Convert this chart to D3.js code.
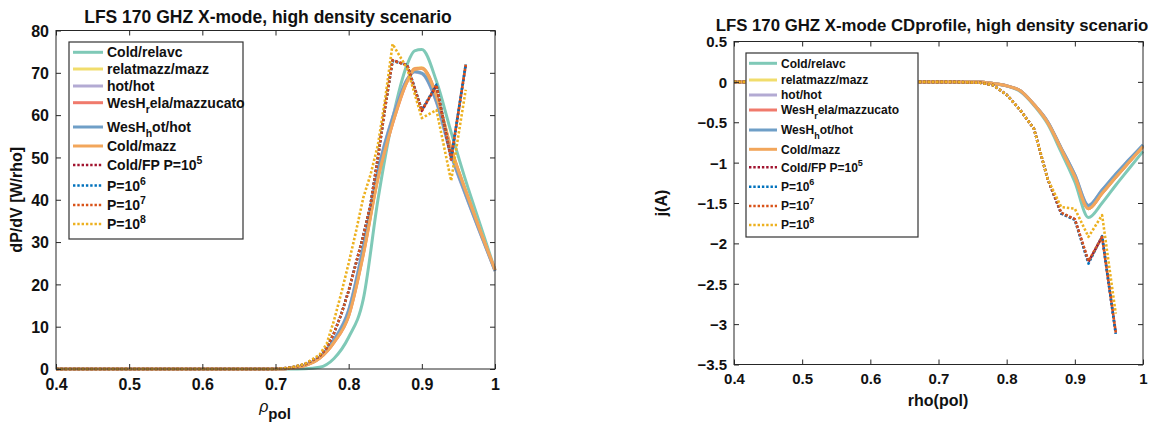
<!DOCTYPE html>
<html><head><meta charset="utf-8">
<script src="https://cdn.jsdelivr.net/npm/d3@7"></script>
<style>
html,body{margin:0;padding:0;background:#fff;}
svg text{font-family:"Liberation Sans",Arial,Helvetica,sans-serif;font-weight:bold;fill:#111;}
</style></head>
<body><svg id="c" width="1149" height="425"></svg>
<script>
// ---------- DATA ----------
const seriesLabels = ["Cold/relavc","relatmazz/mazz","hot/hot","WesH_{r}ela/mazzucato","WesH_{h}ot/hot","Cold/mazz","Cold/FP P=10^{5}","P=10^{6}","P=10^{7}","P=10^{8}"];
const seriesColors = ["#7fc9b7","#f1dd6c","#b3aad3","#f07a6c","#6f9fc7","#f2a65b","#a2142f","#0072bd","#d95319","#edb120"];
const seriesDotted = [false,false,false,false,false,false,true,true,true,true];

// rho grid for solid (ray-tracing) curves
const rhoSolid = [0.40,0.50,0.60,0.70,0.72,0.74,0.76,0.78,0.80,0.82,0.84,0.86,0.88,0.89,0.90,0.92,0.94,0.96,0.98,1.00];
// rho grid for Fokker-Planck (dotted) curves, power
const rhoDotP = [0.40,0.50,0.60,0.70,0.72,0.74,0.76,0.77,0.78,0.79,0.80,0.81,0.82,0.83,0.84,0.85,0.86,0.88,0.90,0.92,0.94,0.96];
// rho grid for dotted curves, current
const rhoDotJ = [0.40,0.50,0.60,0.70,0.72,0.74,0.76,0.78,0.80,0.82,0.84,0.86,0.88,0.90,0.92,0.94,0.96];

// dP/dV [W/rho]
const pColdRelavc = [0,0,0,0,0,0.05,0.4,2.5,7.5,16.5,40,59,72,75.2,75.5,68,56,44.5,34,23.4];
const pRelatmazz  = [0,0,0,0,0.2,0.8,2.5,6.4,12.8,27.5,45.5,58.3,68.3,71,71.2,64.7,52.2,42.2,32.6,23.4];
const pHotHot     = [0,0,0,0,0.2,0.9,2.8,7,14,29,47,59.5,68.5,70.2,69.8,63,50.5,41,32,23.2];
const pWesRela    = [0,0,0,0,0.2,0.8,2.5,6.3,12.6,27.2,45.2,58,68,70.9,71.1,64.6,52,42,32.5,23.4];
const pWesHot     = [0,0,0,0,0.2,0.9,2.7,6.9,13.8,28.7,46.8,59.3,68.4,70.3,69.9,63.2,50.8,41.2,32.1,23.2];
const pColdMazz   = [0,0,0,0,0.2,0.8,2.5,6.3,12.5,27,45,58,68,70.8,71,64.5,52,42,32.5,23.4];
const pFP5 = [0,0,0,0,0.3,1.1,3,5,8.5,13,18.5,25,31.5,39,50,62,73,71.8,61,67,49.5,71.8];
const pFP6 = [0,0,0,0,0.3,1.1,3,5,8.5,13,18.5,25,31.5,39,50,62,72.8,71.9,61.2,67.2,49.8,72];
const pFP7 = [0,0,0,0,0.3,1.1,3,5,8.5,13,18.5,25,31.5,39,50,62,72.9,71.8,61.1,67.1,49.6,71.9];
const pFP8 = [0,0,0,0,0.3,1.2,3.3,6,11.5,18,25,32.5,40.5,46,53,64,76.8,71,59.3,61.2,44.5,66];

// j(A)
const jColdRelavc = [0,0,0,0,0,0,0,-0.02,-0.05,-0.12,-0.29,-0.52,-0.87,-1.05,-1.24,-1.68,-1.5,-1.28,-1.07,-0.86];
const jRelatmazz  = [0,0,0,0,0,0,0,-0.02,-0.05,-0.11,-0.28,-0.5,-0.83,-1.0,-1.17,-1.57,-1.38,-1.18,-0.99,-0.8];
const jHotHot     = [0,0,0,0,0,0,0,-0.02,-0.05,-0.11,-0.28,-0.49,-0.82,-0.98,-1.15,-1.53,-1.34,-1.15,-0.96,-0.79];
const jWesRela    = [0,0,0,0,0,0,0,-0.02,-0.05,-0.11,-0.28,-0.5,-0.83,-1.0,-1.17,-1.57,-1.38,-1.18,-0.99,-0.8];
const jWesHot     = [0,0,0,0,0,0,0,-0.02,-0.05,-0.11,-0.28,-0.49,-0.82,-0.98,-1.15,-1.53,-1.34,-1.14,-0.96,-0.78];
const jColdMazz   = [0,0,0,0,0,0,0,-0.02,-0.05,-0.11,-0.28,-0.5,-0.83,-1.0,-1.17,-1.57,-1.38,-1.18,-0.99,-0.8];
const jFP5 = [0,0,0,0,0,-0.005,-0.01,-0.04,-0.16,-0.35,-0.58,-1.2,-1.63,-1.7,-2.23,-1.92,-3.11];
const jFP6 = [0,0,0,0,0,-0.005,-0.01,-0.04,-0.16,-0.35,-0.58,-1.2,-1.63,-1.71,-2.25,-1.91,-3.12];
const jFP7 = [0,0,0,0,0,-0.005,-0.01,-0.04,-0.16,-0.35,-0.58,-1.2,-1.62,-1.7,-2.22,-1.92,-3.1];
const jFP8 = [0,0,0,0,0,-0.005,-0.01,-0.04,-0.16,-0.35,-0.58,-1.2,-1.55,-1.57,-1.92,-1.65,-2.87];

const xTicks = [0.4,0.5,0.6,0.7,0.8,0.9,1];
const pTicks = [0,10,20,30,40,50,60,70,80];
const jTicks = [0.5,0,-0.5,-1,-1.5,-2,-2.5,-3,-3.5];

// ---------- DRAW ----------
const svg = d3.select("#c");

function richText(sel, label, baseSize){
  const parts = label.split(/(_\{[^}]*\}|\^\{[^}]*\})/).filter(s=>s.length);
  let shift = 0;
  parts.forEach(p=>{
    let txt=p, dy=0, size=baseSize;
    if(p.startsWith("_{")){txt=p.slice(2,-1); dy=5; size=baseSize*0.75;}
    else if(p.startsWith("^{")){txt=p.slice(2,-1); dy=-6; size=baseSize*0.75;}
    sel.append("tspan").attr("dy", dy-shift).attr("font-size", size).text(txt);
    shift = dy;
  });
}

function drawChart(cfg){
  const x = d3.scaleLinear().domain([0.4,1]).range([cfg.left,cfg.right]);
  const y = d3.scaleLinear().domain(cfg.ydom).range([cfg.bottom,cfg.top]);
  const g = svg.append("g");
  const axisCol = "#262626";

  const solidLine = d3.line().x(d=>x(d[0])).y(d=>y(d[1])).curve(d3.curveMonotoneX);
  const dotLine = d3.line().x(d=>x(d[0])).y(d=>y(d[1]));
  cfg.series.forEach((vals,i)=>{
    const xs = seriesDotted[i] ? cfg.rhoDot : rhoSolid;
    const pts = xs.map((r,k)=>[r, vals[k]]);
    g.append("path").attr("d", (seriesDotted[i]?dotLine:solidLine)(pts))
      .attr("fill","none").attr("stroke",seriesColors[i])
      .attr("stroke-width", seriesDotted[i]?2.6:3)
      .attr("stroke-dasharray", seriesDotted[i]?"2.4 1.9":null)
      .attr("stroke-linejoin","round");
  });

  g.append("rect").attr("x",cfg.left).attr("y",cfg.top)
    .attr("width",cfg.right-cfg.left).attr("height",cfg.bottom-cfg.top)
    .attr("fill","none").attr("stroke",axisCol).attr("stroke-width",1);

  const tl = 5;
  const xb = g.append("g").attr("transform",`translate(0,${cfg.bottom})`)
    .call(d3.axisBottom(x).tickValues(xTicks).tickSize(-tl).tickPadding(cfg.xPad).tickFormat(d3.format("")));
  const xt = g.append("g").attr("transform",`translate(0,${cfg.top})`)
    .call(d3.axisTop(x).tickValues(xTicks).tickSize(-tl).tickFormat(""));
  const yl = g.append("g").attr("transform",`translate(${cfg.left},0)`)
    .call(d3.axisLeft(y).tickValues(cfg.yTicks).tickSize(-tl).tickPadding(cfg.yPad).tickFormat(d3.format("")));
  const yr = g.append("g").attr("transform",`translate(${cfg.right},0)`)
    .call(d3.axisRight(y).tickValues(cfg.yTicks).tickSize(-tl).tickFormat(""));
  [xb,xt,yl,yr].forEach(a=>{
    a.select(".domain").remove();
    a.selectAll(".tick line").attr("stroke",axisCol);
    a.selectAll("text").attr("fill","#111").attr("font-size",cfg.tickSize)
      .attr("font-family",'"Liberation Sans",Arial,sans-serif').attr("font-weight","bold");
  });
  xb.selectAll("text").attr("dy",null).attr("y",cfg.xLabelY).attr("dominant-baseline","auto");
  yl.selectAll("text").attr("dy","0.36em");

  g.append("text").attr("x",cfg.titleX).attr("y",cfg.titleY).attr("text-anchor","middle")
    .attr("font-size",cfg.titleSize).text(cfg.title);

  cfg.xLabel(g);
  g.append("text").attr("transform",`translate(${cfg.yLabX},${(cfg.top+cfg.bottom)/2}) rotate(-90)`)
    .attr("text-anchor","middle").attr("font-size",16).text(cfg.yLabel);

  const L = cfg.legend;
  g.append("rect").attr("x",L.x0).attr("y",L.y0).attr("width",L.x1-L.x0).attr("height",L.y1-L.y0)
    .attr("fill","#fff").attr("stroke","#333").attr("stroke-width",1.2);
  seriesLabels.forEach((lab,i)=>{
    const yy = L.rows[i];
    g.append("line").attr("x1",L.lx0).attr("x2",L.lx1).attr("y1",yy).attr("y2",yy)
      .attr("stroke",seriesColors[i]).attr("stroke-width",seriesDotted[i]?2.6:3)
      .attr("stroke-dasharray",seriesDotted[i]?"2.4 1.9":null);
    const t = g.append("text").attr("x",L.tx).attr("y",yy+L.fs*0.36).attr("font-size",L.fs);
    richText(t, lab, L.fs);
  });
}

drawChart({
  left:56, right:495, top:30.5, bottom:369, ydom:[0,80], yTicks:pTicks,
  series:[pColdRelavc,pRelatmazz,pHotHot,pWesRela,pWesHot,pColdMazz,pFP5,pFP6,pFP7,pFP8],
  rhoDot:rhoDotP, tickSize:16, xPad:6, yPad:7, xLabelY:21,
  title:"LFS 170 GHZ X-mode, high density scenario", titleX:268, titleY:23, titleSize:17.5,
  yLabel:"dP/dV [W/rho]", yLabX:22,
  xLabel:(g)=>{
    const t = g.append("text").attr("x",275).attr("y",412).attr("text-anchor","middle");
    t.append("tspan").attr("font-size",16).attr("font-weight","normal").attr("font-style","italic").text("ρ");
    t.append("tspan").attr("font-size",15).attr("dy",7).text("pol");
  },
  legend:{x0:69,x1:243,y0:42,y1:239,lx0:73,lx1:103,tx:107,fs:14,
    rows:[52.3,69,86,102.7,127,146,165,185.5,205,224]}
});

drawChart({
  left:734, right:1143, top:41.5, bottom:364.5, ydom:[-3.5,0.5], yTicks:jTicks,
  series:[jColdRelavc,jRelatmazz,jHotHot,jWesRela,jWesHot,jColdMazz,jFP5,jFP6,jFP7,jFP8],
  rhoDot:rhoDotJ, tickSize:15, xPad:6, yPad:7, xLabelY:19,
  title:"LFS 170 GHZ X-mode CDprofile, high density scenario", titleX:932, titleY:31, titleSize:16.8,
  yLabel:"j(A)", yLabX:667,
  xLabel:(g)=>{
    g.append("text").attr("x",938).attr("y",406).attr("text-anchor","middle").attr("font-size",16).text("rho(pol)");
  },
  legend:{x0:746,x1:918,y0:53,y1:237,lx0:749,lx1:777,tx:781,fs:12,
    rows:[63.3,80,95,110,130,149.3,167.3,186.7,206,225]}
});
</script></body></html>
